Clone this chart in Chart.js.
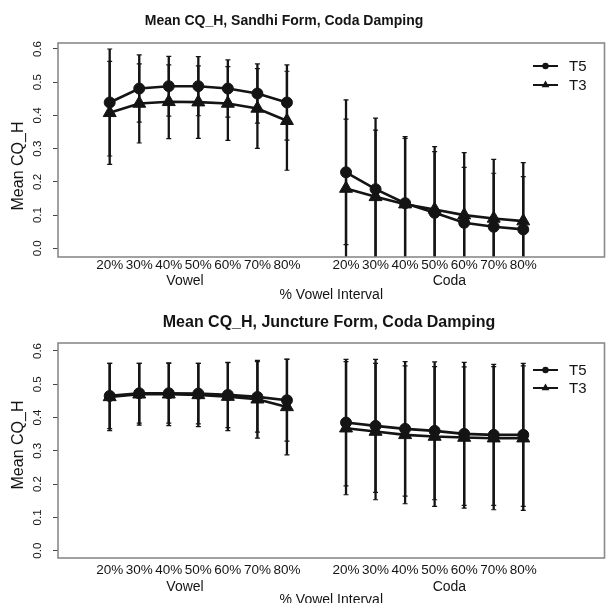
<!DOCTYPE html>
<html><head><meta charset="utf-8">
<script src="https://cdn.jsdelivr.net/npm/chart.js@4/dist/chart.umd.min.js"></script>
<style>
html,body{margin:0;padding:0;background:#fff;}
#wrap{position:relative;width:613px;height:603px;overflow:hidden;background:#fff;}
canvas{position:absolute;left:0;}
#c1{top:0;}
#c2{top:300px;}
</style></head><body>
<div id="wrap">
<canvas id="c1" width="613" height="300"></canvas>
<canvas id="c2" width="613" height="303"></canvas>
</div>
<script>
// ---- data ----
const positions = [1, 2, 3, 4, 5, 6, 7, 9, 10, 11, 12, 13, 14, 15];
const tickLabels = ['20%','30%','40%','50%','60%','70%','80%','20%','30%','40%','50%','60%','70%','80%'];
const groupLabels = ['Vowel', 'Coda'];
const groupPositions = [3.55, 12.5];
const seriesNames = ['T5', 'T3'];
const yTicks = [0, 0.1, 0.2, 0.3, 0.4, 0.5, 0.6];

const sandhiT5   = [0.439,0.481,0.488,0.488,0.481,0.466,0.439, 0.229,0.178,0.136,0.107,0.077,0.065,0.057];
const sandhiT5SD = [0.161,0.101,0.090,0.089,0.086,0.089,0.113, 0.218,0.214,0.200,0.199,0.211,0.203,0.201];
const sandhiT3   = [0.408,0.436,0.441,0.440,0.436,0.421,0.384, 0.180,0.155,0.133,0.117,0.100,0.090,0.082];
const sandhiT3SD = [0.155,0.119,0.111,0.109,0.111,0.120,0.149, 0.209,0.201,0.198,0.174,0.144,0.136,0.134];

const junctureT5   = [0.465,0.473,0.473,0.472,0.468,0.462,0.452, 0.385,0.375,0.366,0.360,0.351,0.348,0.348];
const junctureT5SD = [0.098,0.090,0.090,0.091,0.098,0.106,0.123, 0.190,0.200,0.202,0.207,0.215,0.212,0.215];
const junctureT3   = [0.462,0.470,0.470,0.468,0.463,0.455,0.432, 0.368,0.358,0.348,0.343,0.340,0.338,0.338];
const junctureT3SD = [0.101,0.093,0.094,0.095,0.102,0.117,0.144, 0.200,0.205,0.207,0.210,0.212,0.215,0.217];

const titles = ['Mean CQ_H, Sandhi Form, Coda Damping', 'Mean CQ_H, Juncture Form, Coda Damping'];
const yTitle = 'Mean CQ_H';
const xTitle = '% Vowel Interval';

// ---- helpers ----
function toPoints(vals) {
  const pts = [];
  positions.forEach((p, i) => {
    if (i === 7) pts.push({x: 8, y: null});
    pts.push({x: p, y: vals[i]});
  });
  return pts;
}
function sdPoints(vals, sds) {
  return positions.map((p, i) => ({x: p, m: vals[i], s: sds[i]}));
}

const INK = '#141414';
const FONT = '"Liberation Sans", Arial, sans-serif';

const errorBars = {
  id: 'errorBars',
  beforeDatasetsDraw(chart) {
    const {ctx, chartArea: a, scales: {x, y}} = chart;
    ctx.save();
    ctx.beginPath(); ctx.rect(a.left, a.top, a.right - a.left, a.bottom - a.top); ctx.clip();
    chart.data.datasets.forEach(ds => {
      ds.err.forEach(e => {
        const px = x.getPixelForValue(e.x);
        const yt = y.getPixelForValue(e.m + e.s);
        const yb = y.getPixelForValue(e.m - e.s);
        ctx.strokeStyle = INK; ctx.lineWidth = 2.3;
        ctx.beginPath(); ctx.moveTo(px, yt); ctx.lineTo(px, yb); ctx.stroke();
        ctx.lineWidth = 1.2;
        ctx.beginPath();
        ctx.moveTo(px - 2.5, yt); ctx.lineTo(px + 2.5, yt);
        ctx.moveTo(px - 2.5, yb); ctx.lineTo(px + 2.5, yb);
        ctx.stroke();
      });
    });
    ctx.restore();
  }
};

const decor = {
  id: 'decor',
  afterDraw(chart, args, opts) {
    const {ctx, chartArea: a} = chart;
    ctx.save();
    // box
    ctx.strokeStyle = '#8a8a8a'; ctx.lineWidth = 1.6;
    ctx.strokeRect(a.left, a.top, a.right - a.left, a.bottom - a.top);
    // title
    ctx.fillStyle = INK;
    ctx.font = 'bold ' + opts.titleSize + 'px ' + FONT;
    ctx.textAlign = 'center'; ctx.textBaseline = 'middle';
    ctx.fillText(opts.title, opts.titleX, opts.titleY);
    // y axis title
    ctx.save();
    ctx.translate(18.5, opts.yTitleY);
    ctx.rotate(-Math.PI / 2);
    ctx.font = '16px ' + FONT;
    ctx.fillText(yTitle, 0, 0);
    ctx.restore();
    // legend
    chart.data.datasets.forEach((ds, i) => {
      const ly = opts.legendY[i];
      ctx.strokeStyle = INK; ctx.lineWidth = 2;
      ctx.beginPath(); ctx.moveTo(533, ly); ctx.lineTo(558, ly); ctx.stroke();
      ctx.fillStyle = INK;
      ctx.beginPath();
      if (ds.pointStyle === 'circle') {
        ctx.arc(545.5, ly, 3.2, 0, Math.PI * 2);
      } else {
        const r = 4.5;
        ctx.moveTo(545.5, ly - r);
        ctx.lineTo(545.5 + r * 0.866, ly + r / 2);
        ctx.lineTo(545.5 - r * 0.866, ly + r / 2);
        ctx.closePath();
      }
      ctx.fill();
      ctx.font = '15px ' + FONT;
      ctx.textAlign = 'left'; ctx.textBaseline = 'middle';
      ctx.fillText(ds.label, 569, ly + 0.5);
    });
    ctx.restore();
  }
};

function makeChart(id, cfg) {
  return new Chart(document.getElementById(id), {
    type: 'line',
    data: {
      datasets: [
        {label: seriesNames[0], data: toPoints(cfg.t5), err: sdPoints(cfg.t5, cfg.t5sd),
         pointStyle: 'circle', pointRadius: 5.5},
        {label: seriesNames[1], data: toPoints(cfg.t3), err: sdPoints(cfg.t3, cfg.t3sd),
         pointStyle: 'triangle', pointRadius: 7.5}
      ].map(d => Object.assign(d, {
        borderColor: INK, backgroundColor: INK, pointBackgroundColor: INK, pointBorderColor: INK,
        borderWidth: 2.6, pointBorderWidth: 1, tension: 0, spanGaps: false
      }))
    },
    options: {
      responsive: false, animation: false, events: [],
      layout: {padding: {left: 0, right: 2, top: 43, bottom: 0}},
      plugins: {
        legend: {display: false}, tooltip: {enabled: false},
        decor: {title: cfg.title, titleX: cfg.titleX, titleY: cfg.titleY, titleSize: cfg.titleSize,
                legendY: cfg.legendY, yTitleY: cfg.yTitleY}
      },
      scales: {
        x: {
          type: 'linear', position: 'bottom', min: -0.75, max: 17.75, weight: 0,
          afterBuildTicks: s => { s.ticks = positions.map(v => ({value: v})); },
          afterFit: s => { s.height = cfg.xH; },
          grid: {display: false}, border: {display: false},
          ticks: {autoSkip: false, maxRotation: 0, minRotation: 0, padding: cfg.xPad, color: INK,
                  font: {family: FONT, size: 13.5, lineHeight: 1},
                  callback: (v, i) => tickLabels[i]}
        },
        x2: {
          type: 'linear', position: 'bottom', min: -0.75, max: 17.75, weight: 1,
          afterBuildTicks: s => { s.ticks = groupPositions.map(v => ({value: v})); },
          afterFit: s => { s.height = cfg.x2H; },
          grid: {display: false}, border: {display: false},
          ticks: {autoSkip: false, maxRotation: 0, minRotation: 0, padding: cfg.x2Pad, color: INK,
                  font: {family: FONT, size: 14, lineHeight: 1},
                  callback: (v, i) => groupLabels[i]},
          title: {display: true, text: xTitle, color: INK,
                  font: {family: FONT, size: 14, lineHeight: 1}, padding: {top: 0, bottom: cfg.titlePadB}}
        },
        y: {
          type: 'linear', position: 'left', min: cfg.ymin, max: cfg.ymax,
          afterBuildTicks: s => { s.ticks = yTicks.map(v => ({value: v})); },
          afterFit: s => { s.width = 58; },
          grid: {display: true, drawOnChartArea: false, drawTicks: true, tickLength: 5, color: '#444', lineWidth: 1},
          border: {display: false},
          ticks: {minRotation: 90, maxRotation: 90, crossAlign: 'center', padding: 7, color: INK,
                  font: {family: FONT, size: 11.5},
                  callback: v => v.toFixed(1)},
          title: {display: false}
        }
      }
    },
    plugins: [errorBars, decor]
  });
}

makeChart('c1', {
  t5: sandhiT5, t5sd: sandhiT5SD, t3: sandhiT3, t3sd: sandhiT3SD,
  title: titles[0], titleX: 284, titleY: 21, titleSize: 14, yTitleY: 166,
  legendY: [66, 85], ymin: -0.026, ymax: 0.618,
  xH: 16, xPad: -6.5, x2H: 27, x2Pad: -7, titlePadB: -2
});
makeChart('c2', {
  t5: junctureT5, t5sd: junctureT5SD, t3: junctureT3, t3sd: junctureT3SD,
  title: titles[1], titleX: 329, titleY: 23, titleSize: 16, yTitleY: 145,
  legendY: [70, 88], ymin: -0.022, ymax: 0.624,
  xH: 18, xPad: -2.5, x2H: 27, x2Pad: -4, titlePadB: -4.5
});
</script>
</body></html>
